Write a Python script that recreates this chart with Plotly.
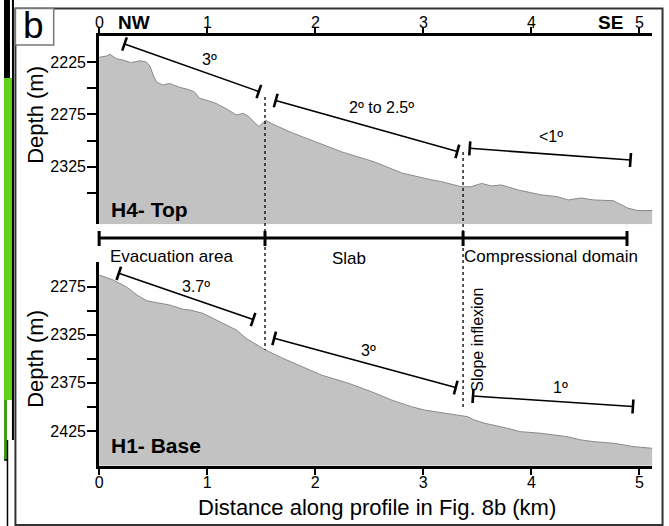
import plotly.graph_objects as go

W, H = 669, 526
FONT = "Liberation Sans, Arial, sans-serif"

# ---------------- data ----------------
h4_km = [0.0, 0.07, 0.10, 0.16, 0.22, 0.29, 0.34, 0.38, 0.435, 0.47, 0.50, 0.53, 0.59, 0.65,
         0.745, 0.82, 0.88, 0.93, 0.99, 1.08, 1.17, 1.27, 1.33, 1.38, 1.44, 1.48, 1.54, 1.60,
         1.79, 2.00, 2.25, 2.55, 2.80, 3.08, 3.17, 3.35, 3.44, 3.54, 3.63, 3.72, 3.88, 4.09,
         4.24, 4.34, 4.46, 4.58, 4.76, 4.89, 4.98, 5.12]
h4_depth = [2220.2, 2219.0, 2217.3, 2221.6, 2222.8, 2225.2, 2224.4, 2223.5, 2224.7, 2228.5,
            2237.2, 2243.9, 2246.8, 2245.2, 2249.0, 2250.9, 2253.2, 2259.5, 2261.2, 2264.3,
            2269.1, 2275.5, 2273.9, 2276.5, 2283.0, 2286.5, 2280.5, 2284.0, 2292.7, 2301.3,
            2311.0, 2320.5, 2331.0, 2337.7, 2339.4, 2344.2, 2344.2, 2341.0, 2343.5, 2342.5,
            2347.3, 2352.0, 2353.7, 2356.9, 2355.0, 2356.9, 2357.6, 2364.6, 2367.0, 2367.0]

h1_km = [0.0, 0.13, 0.25, 0.35, 0.44, 0.53, 0.65, 0.78, 0.84, 0.96, 1.08, 1.17, 1.27, 1.36,
         1.48, 1.54, 1.70, 1.85, 2.06, 2.31, 2.52, 2.71, 2.89, 3.01, 3.20, 3.41, 3.47, 3.57,
         3.78, 3.90, 4.09, 4.21, 4.33, 4.46, 4.58, 4.76, 4.95, 5.12]
h1_depth = [2262.8, 2268.0, 2275.0, 2283.6, 2289.6, 2291.6, 2294.0, 2298.5, 2299.2, 2302.7,
            2309.6, 2314.8, 2320.0, 2328.7, 2337.4, 2340.9, 2349.5, 2356.5, 2367.0, 2375.5,
            2384.2, 2393.0, 2399.8, 2403.3, 2406.7, 2410.2, 2413.6, 2417.1, 2422.3, 2425.8,
            2427.5, 2429.3, 2431.0, 2434.4, 2436.2, 2437.8, 2441.4, 2443.1]

x_ticks = [0, 1, 2, 3, 4, 5]
x_tick_labels = ["0", "1", "2", "3", "4", "5"]
top_depth_ticks = [2225, 2250, 2275, 2300, 2325, 2350]
top_depth_labels = ["2225", "", "2275", "", "2325", ""]
base_depth_ticks = [2275, 2300, 2325, 2350, 2375, 2400, 2425]
base_depth_labels = ["2275", "", "2325", "", "2375", "", "2425"]

# slope measurement segments: (start, end) in km and depth
top_slope_km = [(0.235, 1.478), (1.634, 3.315), (3.43, 4.917)]
top_slope_depth = [(2207.5, 2253.0), (2261.6, 2310.4), (2307.4, 2318.6)]
top_slope_labels = ["3º", "2º to 2.5º", "<1º"]
base_slope_km = [(0.182, 1.425), (1.62, 3.30), (3.46, 4.94)]
base_slope_depth = [(2261.1, 2309.1), (2328.7, 2379.9), (2388.7, 2399.6)]
base_slope_labels = ["3.7º", "3º", "1º"]

domain_bounds = [0, 1.535, 3.368, 4.885]
domain_names = ["Evacuation area", "Slab", "Compressional domain"]

# ---------------- layout geometry ----------------
X_RANGE = [0, 5.12]
XDOM = [95.7 / W, 652.3 / W]
TOP_DOM = [1 - 224.3 / H, 1 - 36.3 / H]
TOP_RANGE = [2380.2, 2200.1]
BOT_DOM = [1 - 465.7 / H, 1 - 262.0 / H]
BOT_RANGE = [2461.2, 2249.3]


def xpx(km):
    return XDOM[0] * W + (km - X_RANGE[0]) / (X_RANGE[1] - X_RANGE[0]) * (XDOM[1] - XDOM[0]) * W


def ypx(d, dom, rng):
    frac = (d - rng[0]) / (rng[1] - rng[0])
    return (1 - (dom[0] + frac * (dom[1] - dom[0]))) * H


def pline(x0, y0, x1, y1, width=2, color="black", dash=None):
    ln = dict(color=color, width=width)
    if dash:
        ln["dash"] = dash
    return dict(type="line", xref="paper", yref="paper", x0=x0 / W, y0=1 - y0 / H,
                x1=x1 / W, y1=1 - y1 / H, line=ln, layer="above")


def prect(x0, y0, x1, y1, fill="rgba(0,0,0,0)", lc="rgba(0,0,0,0)", lw=0):
    return dict(type="rect", xref="paper", yref="paper", x0=x0 / W, y0=1 - y1 / H,
                x1=x1 / W, y1=1 - y0 / H, fillcolor=fill, line=dict(color=lc, width=lw),
                layer="above")


def ptext(px, py, text, size=16, bold=False, angle=0, xanchor="center"):
    t = f"<b>{text}</b>" if bold else text
    return dict(x=px / W, y=1 - py / H, xref="paper", yref="paper", text=t, showarrow=False,
                font=dict(family=FONT, size=size, color="black"), textangle=angle,
                xanchor=xanchor, yanchor="middle")


fig = go.Figure()

# top panel (H4)
fig.add_trace(go.Scatter(x=[X_RANGE[0], h4_km[-1]], y=[TOP_RANGE[0], TOP_RANGE[0]],
                         xaxis="x2", yaxis="y2", mode="lines", line=dict(width=0),
                         showlegend=False, hoverinfo="skip"))
fig.add_trace(go.Scatter(x=h4_km, y=h4_depth, xaxis="x2", yaxis="y2", mode="lines",
                         fill="tonexty", fillcolor="#c2c2c2",
                         line=dict(color="#8a8a8a", width=1), showlegend=False))
# bottom panel (H1)
fig.add_trace(go.Scatter(x=[X_RANGE[0], h1_km[-1]], y=[BOT_RANGE[0], BOT_RANGE[0]],
                         xaxis="x", yaxis="y", mode="lines", line=dict(width=0),
                         showlegend=False, hoverinfo="skip"))
fig.add_trace(go.Scatter(x=h1_km, y=h1_depth, xaxis="x", yaxis="y", mode="lines",
                         fill="tonexty", fillcolor="#c2c2c2",
                         line=dict(color="#8a8a8a", width=1), showlegend=False))

shapes = []
annotations = []

# left strip (neighbouring panel fragment)
shapes.append(prect(0, 0, 6, 78, fill="black"))
shapes.append(prect(0, 78, 8, 400, fill="#5fd21c"))
shapes.append(prect(0, 400, 3, 460, fill="#3f9e12"))
shapes.append(pline(9, 0, 9, 440, width=2))
shapes.append(pline(3.5, 440, 3.5, 526, width=1.5))
shapes.append(pline(0, 460, 3.5, 460, width=1.5))

# outer frame
shapes.append(prect(11.5, 8.5, 662.5, 525, lc="#333333", lw=2))
# panel letter box
shapes.append(prect(11.5, 8.5, 50, 45, fill="white", lc="#777777", lw=1.5))
annotations.append(ptext(30, 26, "b", size=37))


def add_segments(kms, depths, dom, rng):
    for (k0, k1), (d0, d1) in zip(kms, depths):
        x0, y0 = xpx(k0), ypx(d0, dom, rng)
        x1, y1 = xpx(k1), ypx(d1, dom, rng)
        shapes.append(pline(x0, y0, x1, y1, width=1.6))
        dx, dy = x1 - x0, y1 - y0
        L = (dx * dx + dy * dy) ** 0.5
        nx, ny = -dy / L, dx / L
        h = 7
        for (cx, cy) in ((x0, y0), (x1, y1)):
            shapes.append(pline(cx - nx * h, cy - ny * h, cx + nx * h, cy + ny * h, width=2.6))


add_segments(top_slope_km, top_slope_depth, TOP_DOM, TOP_RANGE)
add_segments(base_slope_km, base_slope_depth, BOT_DOM, BOT_RANGE)

top_label_px = [(206.7, 60), (380, 107.3), (550, 136)]
base_label_px = [(193.3, 286.7), (366.7, 350), (560, 387.3)]
for (px, py), t in zip(top_label_px, top_slope_labels):
    annotations.append(ptext(px, py, t, size=16))
for (px, py), t in zip(base_label_px, base_slope_labels):
    annotations.append(ptext(px, py, t, size=16))

# top axis tick labels (placed as text just above the top axis)
for k, t in zip(x_ticks, x_tick_labels):
    annotations.append(ptext(xpx(k), 22.5, t, size=16))

# domain bar between panels
MID_Y = 238
shapes.append(pline(xpx(domain_bounds[0]), MID_Y, xpx(domain_bounds[-1]), MID_Y, width=3))
for b in domain_bounds:
    shapes.append(pline(xpx(b), 231, xpx(b), 246, width=3))
name_px = [(168.5, 256.5), (346.7, 258), (550.5, 256.5)]
for (px, py), t in zip(name_px, domain_names):
    annotations.append(ptext(px, py, t, size=17))

# dotted slope-change lines
shapes.append(pline(xpx(domain_bounds[1]), 97, xpx(domain_bounds[1]), 350, width=1.3, dash="dot"))
shapes.append(pline(xpx(domain_bounds[2]), 152, xpx(domain_bounds[2]), 409, width=1.3, dash="dot"))
annotations.append(ptext(475.5, 340, "Slope inflexion", size=16, angle=-90))

# panel labels
annotations.append(ptext(106, 210, "H4- Top", size=21, bold=True, xanchor="left"))
annotations.append(ptext(106, 445, "H1- Base", size=21, bold=True, xanchor="left"))
annotations.append(ptext(131, 22, "NW", size=19, bold=True))
annotations.append(ptext(610, 22, "SE", size=19, bold=True))

# axis titles
annotations.append(ptext(31, 115, "Depth (m)", size=22, angle=-90))
annotations.append(ptext(31, 359, "Depth (m)", size=22, angle=-90))
annotations.append(ptext(375, 507, "Distance along profile in Fig. 8b (km)", size=22))

tickfont = dict(family=FONT, size=16, color="black")
common_x = dict(range=X_RANGE, domain=XDOM, showgrid=False, zeroline=False, showline=True,
                linecolor="black", linewidth=3, ticks="outside", tickwidth=2, ticklen=6,
                tickcolor="black", tickvals=x_ticks, ticktext=x_tick_labels,
                tickfont=tickfont, fixedrange=True)
common_y = dict(showgrid=False, zeroline=False, showline=True, linecolor="black",
                linewidth=3, ticks="outside", tickwidth=2, ticklen=9, tickcolor="black",
                tickfont=tickfont, fixedrange=True, ticklabelstandoff=-2)

fig.update_layout(
    width=W, height=H, margin=dict(l=0, r=0, t=0, b=0),
    paper_bgcolor="white", plot_bgcolor="rgba(0,0,0,0)",
    font=dict(family=FONT, color="black"),
    xaxis=dict(**common_x, anchor="y", side="bottom", ticklabelstandoff=-6),
    yaxis=dict(**common_y, domain=BOT_DOM, range=BOT_RANGE, anchor="x",
               tickvals=base_depth_ticks, ticktext=base_depth_labels),
    xaxis2=dict(**common_x, anchor="y2", side="top", showticklabels=False),
    yaxis2=dict(**common_y, domain=TOP_DOM, range=TOP_RANGE, anchor="x2",
                tickvals=top_depth_ticks, ticktext=top_depth_labels),
    shapes=shapes, annotations=annotations, showlegend=False,
)

fig.write_html("out.html")
